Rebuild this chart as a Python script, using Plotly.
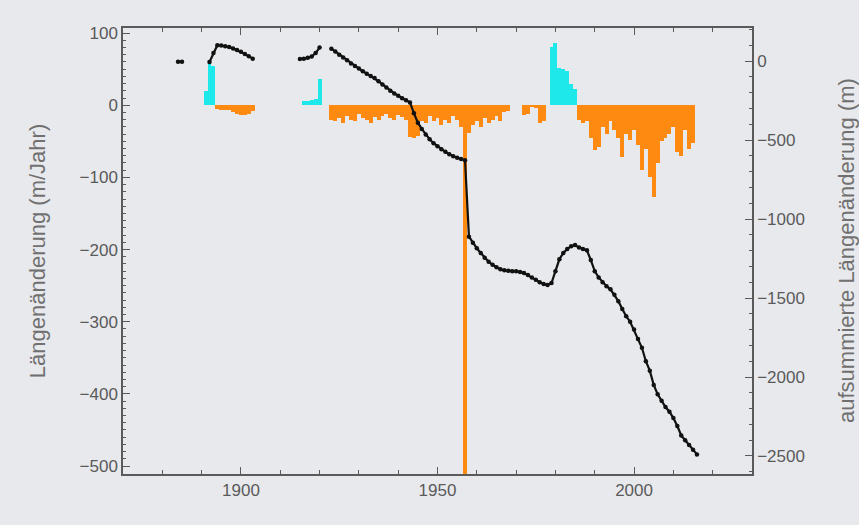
import plotly.graph_objects as go

# ---- annual length change (m/Jahr), left axis ----
rate_years = (
    [1891, 1892, 1893, 1894, 1895, 1896, 1897, 1898, 1899, 1900, 1901, 1902, 1903]
    + [1916, 1917, 1918, 1919, 1920]
    + list(range(1923, 1969))
    + [1972, 1973, 1974, 1975, 1976, 1977]
    + list(range(1979, 2016))
)
rate_values = (
    [20, 60, 55, -5, -6, -6, -7, -10, -12, -14, -13, -12, -8]
    + [6, 6, 7, 8, 37]
    + [-20, -22, -18, -24, -15, -20, -22, -12, -18, -20,
       -24, -16, -20, -15, -12, -18, -20, -14, -16, -20,
       -44, -46, -42, -22, -25, -15, -22, -18, -28, -20,
       -25, -15, -20, -30, -515, -38, -28, -22, -30, -18,
       -25, -20, -15, -22, -10, -8]
    + [-14, -12, -3, -4, -25, -22]
    + [80, 86, 52, 50, 48, 30, 22]
    + [-20, -25, -22, -45, -62, -58, -30, -40, -22, -35,
       -45, -72, -40, -48, -35, -55, -90, -60, -100, -127,
       -80, -50, -45, -40, -30, -65, -70, -35, -60, -52]
)

# ---- cumulative length change (m), right axis (None = gap) ----
cum_years = (
    [1884, 1885, 1886]
    + list(range(1892, 1905))
    + list(range(1915, 1922))
    + list(range(1923, 2017))
)
cum_values = (
    [-5, -5, None]
    + [-6, 50, 100, 98, 94, 88, 80, 70, 58, 45, 30, 15, None]
    + [12, 15, 20, 28, 50, 85, None]
    + [78, 60, 40, 22, 5, -15, -32, -48, -65, -80,
       -95, -108, -128, -148, -168, -188, -205, -220, -235, -248,
       -262, -330, -390, -430, -465, -495, -520, -540, -558, -575,
       -590, -602, -612, -620, -628,
       -1112, -1150, -1185, -1215, -1245, -1270, -1290, -1305, -1318, -1325,
       -1328, -1330, -1330, -1335, -1342, -1355, -1370, -1385, -1400, -1412,
       -1418, -1405, -1330, -1255, -1215, -1190, -1172, -1165, -1180, -1190,
       -1198, -1260, -1330, -1370, -1400, -1425, -1445, -1480, -1520, -1570,
       -1615, -1650, -1700, -1760, -1815, -1900, -1960, -2050, -2110, -2150,
       -2190, -2220, -2260, -2310, -2370, -2400, -2430, -2460, -2490]
)

x_ticks = [1900, 1950, 2000]

pos_x = [y for y, v in zip(rate_years, rate_values) if v > 0]
pos_y = [v for v in rate_values if v > 0]
neg_x = [y for y, v in zip(rate_years, rate_values) if v < 0]
neg_y = [v for v in rate_values if v < 0]

fig = go.Figure()
fig.add_bar(x=neg_x, y=neg_y, width=1, marker=dict(color="#ff8a12", line=dict(width=0)),
            showlegend=False)
fig.add_bar(x=pos_x, y=pos_y, width=1, marker=dict(color="#1ee8ea", line=dict(width=0)),
            showlegend=False)
fig.add_scatter(x=cum_years, y=cum_values, yaxis="y2", mode="lines+markers",
                line=dict(color="#111111", width=2.2),
                marker=dict(color="#111111", size=4.5),
                showlegend=False)

axcol = "#5a5a5a"
tickfont = dict(family="Liberation Sans, Arial, sans-serif", size=17, color=axcol)
titlefont = dict(family="Liberation Sans, Arial, sans-serif", size=22, color="#707070")

fig.update_layout(
    width=859, height=525,
    margin=dict(l=123, r=107, t=28, b=51, autoexpand=False),
    paper_bgcolor="#e8e9ed",
    plot_bgcolor="#e8e9ed",
    barmode="overlay",
    bargap=0,
    xaxis=dict(
        range=[1870, 2030], tickvals=x_ticks, ticks="inside", ticklen=7,
        tickcolor=axcol, tickwidth=1,
        minor=dict(dtick=10, tick0=1900, ticks="inside", ticklen=4, tickcolor=axcol),
        showline=True, linecolor=axcol, linewidth=1.5, mirror="ticks",
        showgrid=False, zeroline=False, tickfont=tickfont,
    ),
    yaxis=dict(
        range=[-511, 107], dtick=100, tick0=0, ticks="inside", ticklen=7,
        tickcolor=axcol, tickwidth=1,
        minor=dict(dtick=10, ticks="inside", ticklen=3, tickcolor=axcol),
        showline=True, linecolor=axcol, linewidth=1.5,
        showgrid=False, zeroline=False, tickfont=tickfont,
        title=dict(text="Längenänderung (m/Jahr)", font=titlefont, standoff=28),
    ),
    yaxis2=dict(
        overlaying="y", side="right",
        range=[-2614, 209], dtick=500, tick0=0, ticks="inside", ticklen=7,
        tickcolor=axcol, tickwidth=1,
        minor=dict(dtick=100, ticks="inside", ticklen=3, tickcolor=axcol),
        showline=True, linecolor=axcol, linewidth=1.5,
        showgrid=False, zeroline=False, tickfont=tickfont,
    ),
    annotations=[dict(
        text="aufsummierte Längenänderung (m)", textangle=-90,
        xref="paper", yref="paper", x=1, y=0.5,
        xanchor="center", yanchor="middle", xshift=94,
        showarrow=False, font=titlefont,
    )],
)

fig.write_html("out.html")
